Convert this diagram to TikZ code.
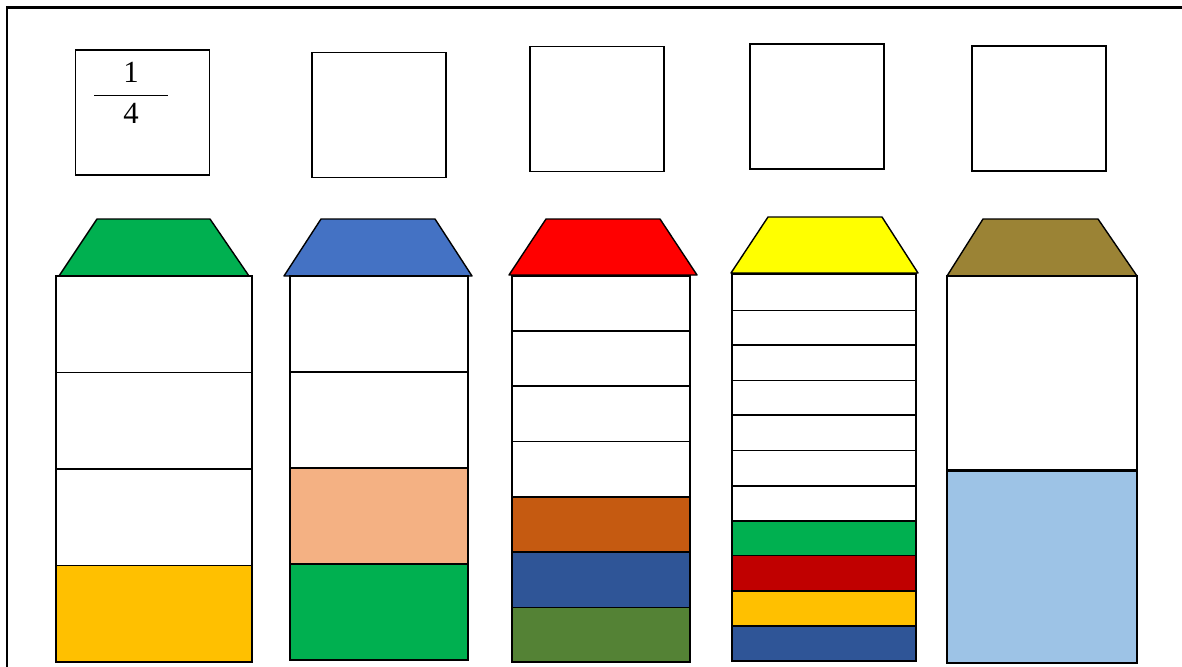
\documentclass[tikz,border=0pt]{standalone}
\usepackage{amsmath}
\usepackage{fontspec}
\setmainfont{Liberation Serif}
\usepackage{tikz}
\definecolor{pgreen}{HTML}{00B050}
\definecolor{pblue}{HTML}{4472C4}
\definecolor{pred}{HTML}{FF0000}
\definecolor{pyellow}{HTML}{FFFF00}
\definecolor{polive}{HTML}{9B8335}
\definecolor{pgold}{HTML}{FFC000}
\definecolor{ppeach}{HTML}{F4B183}
\definecolor{porange}{HTML}{C55A11}
\definecolor{pnavy}{HTML}{2F5597}
\definecolor{pleaf}{HTML}{548235}
\definecolor{pcrimson}{HTML}{C00000}
\definecolor{psky}{HTML}{9DC3E6}

\begin{document}
\begin{tikzpicture}[
  x=0.02cm,y=-0.02cm,
  frame/.style={draw,line width=1.4pt},
  card/.style={draw,line width=0.85pt,minimum width=2.68cm,minimum height=2.5cm,inner sep=0pt},
  roof/.style={draw,line width=0.8pt,line join=round},
  eave/.style={line width=1.7pt},
  body/.style={draw,line width=0.85pt},
  part/.style={draw,line width=0.85pt}
]
\useasboundingbox (0,0) rectangle (1182,666);
\draw[frame] (7,720) -- (7,7.5) -- (1240,7.5);

% cards on top
\node[card] (card1) at (142.5,112.5) {};
\node[card] (card2) at (379,115) {};
\node[card] (card3) at (597,109) {};
\node[card] (card4) at (817,106.5) {};
\node[card] (card5) at (1039,108.5) {};
\node[font=\fontsize{17.5}{20}\selectfont] (frac) at (131,93) {$\genfrac{}{}{0.9pt}{0}{\makebox[1.48cm]{1}}{\text{4}}$};

% roofs
\filldraw[roof,fill=pgreen] (59,276) -- (97,219) -- (210,219) -- (249,276) -- cycle;
\filldraw[roof,fill=pblue] (284,276) -- (321,219) -- (435,219) -- (472,276) -- cycle;
\filldraw[roof,fill=pred] (509,275) -- (546,219) -- (660,219) -- (697,275) -- cycle;
\filldraw[roof,fill=pyellow] (731,273) -- (768,217) -- (882,217) -- (918,273) -- cycle;
\filldraw[roof,fill=polive] (947,276) -- (983,219) -- (1098,219) -- (1137,276) -- cycle;

% first pencil: 4 parts
\draw[body] (56,276) rectangle (252,662);
\draw[part] (56,372.5) -- (252,372.5) (56,469) -- (252,469);
\filldraw[part,fill=pgold] (56,565.5) rectangle (252,662);
\draw[eave] (56,276) -- (252,276);

% second pencil: 4 parts
\draw[body] (290,276) rectangle (468,660);
\draw[part] (290,372) -- (468,372);
\filldraw[part,fill=ppeach] (290,468) rectangle (468,564);
\filldraw[part,fill=pgreen] (290,564) rectangle (468,660);
\draw[eave] (290,276) -- (468,276);

% third pencil: 7 parts
\draw[body] (512,276) rectangle (690,662);
\draw[part] (512,331) -- (690,331) (512,386) -- (690,386) (512,441.5) -- (690,441.5);
\filldraw[part,fill=porange] (512,497) rectangle (690,552);
\filldraw[part,fill=pnavy] (512,552) rectangle (690,607.5);
\filldraw[part,fill=pleaf] (512,607.5) rectangle (690,662);
\draw[eave] (512,276) -- (690,276);

% fourth pencil: 11 parts
\draw[body] (732,274) rectangle (916,661);
\draw[part] (732,310.5) -- (916,310.5) (732,345) -- (916,345) (732,380.5) -- (916,380.5)
  (732,415) -- (916,415) (732,450.5) -- (916,450.5) (732,486) -- (916,486);
\filldraw[part,fill=pgreen] (732,521) rectangle (916,555.5);
\filldraw[part,fill=pcrimson] (732,555.5) rectangle (916,591);
\filldraw[part,fill=pgold] (732,591) rectangle (916,626);
\filldraw[part,fill=pnavy] (732,626) rectangle (916,661);
\draw[eave] (732,274) -- (916,274);

% fifth pencil: 2 parts
\draw[body] (947,276) rectangle (1137,663);
\filldraw[part,fill=psky] (947,470) rectangle (1137,663);
\draw[eave] (947,470) -- (1137,470);
\draw[eave] (947,276) -- (1137,276);
\end{tikzpicture}
\end{document}
